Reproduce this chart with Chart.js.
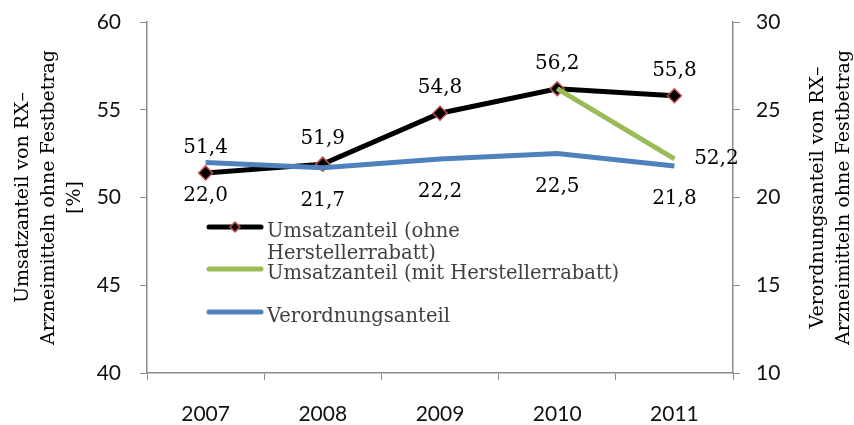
<!DOCTYPE html>
<html>
<head>
<meta charset="utf-8">
<script src="https://cdn.jsdelivr.net/npm/chart.js@4/dist/chart.umd.min.js"></script>
<style>
  html, body { margin: 0; padding: 0; background: #fff; }
  #wrap { width: 854px; height: 425px; }
</style>
</head>
<body>
<div id="wrap"><canvas id="chart"></canvas></div>
<script>
// Data
const years = ['2007', '2008', '2009', '2010', '2011'];
const umsatzOhne = [51.4, 51.9, 54.8, 56.2, 55.8];
const umsatzMit = [null, null, null, 56.2, 52.2];
const verordnung = [22.0, 21.7, 22.2, 22.5, 21.8];
const leftTicks = [40, 45, 50, 55, 60];
const rightTicks = [10, 15, 20, 25, 30];
const leftTitle = ['Umsatzanteil von RX–', 'Arzneimitteln ohne Festbetrag', '[%]'];
const rightTitle = ['Verordnungsanteil von RX–', 'Arzneimitteln ohne Festbetrag'];

const serif = '"DejaVu Serif", "Liberation Serif", serif';
const sans = 'Lato, "Liberation Sans", sans-serif';
const axisGray = '#8c8c8c';

// format numbers with a German decimal comma
function fmt(v) {
    return v.toFixed(1).replace('.', ',');
}

// Data labels drawn next to the points
const labelPlugin = {
    id: 'pointLabels',
    afterDatasetsDraw(chart) {
        const ctx = chart.ctx;
        ctx.save();
        ctx.font = '20px ' + serif;
        ctx.fillStyle = '#000';
        ctx.textAlign = 'center';
        ctx.textBaseline = 'middle';
        chart.data.datasets.forEach((ds, i) => {
            const meta = chart.getDatasetMeta(i);
            meta.data.forEach((pt, j) => {
                const v = ds.data[j];
                if (v === null) return;
                if (ds.labelPos === 'above') {
                    ctx.fillText(fmt(v), pt.x, pt.y - 25);
                } else if (ds.labelPos === 'below') {
                    ctx.fillText(fmt(v), pt.x, pt.y + 33);
                } else if (ds.labelPos === 'right' && j === ds.data.length - 1) {
                    ctx.fillText(fmt(v), pt.x + 42, pt.y);
                }
            });
        });
        ctx.restore();
    }
};

// Rotated axis titles (both read bottom to top)
const titlePlugin = {
    id: 'axisTitles',
    afterDraw(chart) {
        const ctx = chart.ctx;
        const cy = (chart.chartArea.top + chart.chartArea.bottom) / 2;
        ctx.save();
        ctx.font = '19px ' + serif;
        ctx.fillStyle = '#000';
        ctx.textAlign = 'center';
        ctx.textBaseline = 'middle';
        const drawTitle = (lines, xs) => {
            lines.forEach((t, k) => {
                ctx.save();
                ctx.translate(xs[k], cy);
                ctx.rotate(-Math.PI / 2);
                ctx.fillText(t, 0, 0);
                ctx.restore();
            });
        };
        drawTitle(leftTitle, [23, 49, 75]);
        drawTitle(rightTitle, [818, 844]);
        ctx.restore();
    }
};

// Legend inside the plot area, with wrapped first entry
const legendPlugin = {
    id: 'innerLegend',
    afterDraw(chart) {
        const ctx = chart.ctx;
        const x0 = 207;
        const items = [
            { lines: ['Umsatzanteil (ohne', 'Herstellerrabatt)'], color: '#000', marker: true, y: 227 },
            { lines: ['Umsatzanteil (mit Herstellerrabatt)'], color: '#9bbb59', marker: false, y: 269 },
            { lines: ['Verordnungsanteil'], color: '#4f81bd', marker: false, y: 312 }
        ];
        ctx.save();
        items.forEach(it => {
            ctx.strokeStyle = it.color;
            ctx.lineWidth = 5;
            ctx.lineCap = 'round';
            ctx.beginPath();
            ctx.moveTo(x0 + 2, it.y);
            ctx.lineTo(x0 + 54, it.y);
            ctx.stroke();
            if (it.marker) {
                const cx = x0 + 28;
                ctx.beginPath();
                ctx.moveTo(cx, it.y - 5);
                ctx.lineTo(cx + 5, it.y);
                ctx.lineTo(cx, it.y + 5);
                ctx.lineTo(cx - 5, it.y);
                ctx.closePath();
                ctx.fillStyle = '#000';
                ctx.fill();
                ctx.lineWidth = 1.5;
                ctx.strokeStyle = '#c0504d';
                ctx.stroke();
            }
            ctx.font = '19.5px ' + serif;
            ctx.fillStyle = '#404040';
            ctx.textAlign = 'left';
            ctx.textBaseline = 'middle';
            it.lines.forEach((t, k) => {
                ctx.fillText(t, x0 + 60, it.y + 5 + k * 22);
            });
        });
        ctx.restore();
    }
};

// fixed scale sizes so the plot area lands where the original has it
function fixY(width) {
    return function (scale) {
        scale.width = width;
        scale.paddingTop = 0;
        scale.paddingBottom = 0;
    };
}

const ctx = document.getElementById('chart').getContext('2d');
new Chart(ctx, {
    type: 'line',
    data: {
        labels: years,
        datasets: [
            {
                label: 'Umsatzanteil (ohne Herstellerrabatt)',
                data: umsatzOhne,
                yAxisID: 'y',
                borderColor: '#000',
                borderWidth: 5,
                pointStyle: 'rectRot',
                pointRadius: 7,
                pointBackgroundColor: '#000',
                pointBorderColor: '#c0504d',
                pointBorderWidth: 1.5,
                tension: 0,
                order: 3,
                labelPos: 'above'
            },
            {
                label: 'Umsatzanteil (mit Herstellerrabatt)',
                data: umsatzMit,
                yAxisID: 'y',
                borderColor: '#9bbb59',
                borderWidth: 5,
                pointRadius: 0,
                tension: 0,
                order: 2,
                labelPos: 'right'
            },
            {
                label: 'Verordnungsanteil',
                data: verordnung,
                yAxisID: 'y1',
                borderColor: '#4f81bd',
                borderWidth: 5,
                pointRadius: 0,
                tension: 0,
                order: 1,
                labelPos: 'below'
            }
        ]
    },
    options: {
        responsive: true,
        maintainAspectRatio: false,
        animation: false,
        layout: { padding: { top: 22, right: 0, left: 0, bottom: 0 } },
        plugins: {
            legend: { display: false },
            tooltip: { enabled: false }
        },
        scales: {
            x: {
                offset: true,
                grid: {
                    offset: true,
                    drawOnChartArea: false,
                    drawTicks: true,
                    tickLength: 7,
                    color: axisGray
                },
                border: { color: axisGray, width: 1.5 },
                ticks: {
                    font: { family: sans, size: 21 },
                    color: '#111',
                    padding: 22
                },
                afterFit(scale) {
                    scale.height = 52;
                    scale.paddingLeft = 0;
                    scale.paddingRight = 0;
                }
            },
            y: {
                position: 'left',
                min: 40,
                max: 60,
                afterBuildTicks(scale) { scale.ticks = leftTicks.map(v => ({ value: v })); },
                grid: {
                    drawOnChartArea: false,
                    drawTicks: true,
                    tickLength: 7,
                    color: axisGray
                },
                border: { color: axisGray, width: 1.5 },
                ticks: {
                    font: { family: sans, size: 21 },
                    color: '#111',
                    padding: 19
                },
                afterFit: fixY(147)
            },
            y1: {
                position: 'right',
                min: 10,
                max: 30,
                afterBuildTicks(scale) { scale.ticks = rightTicks.map(v => ({ value: v })); },
                grid: {
                    drawOnChartArea: false,
                    drawTicks: true,
                    tickLength: 7,
                    color: axisGray
                },
                border: { color: axisGray, width: 1.5 },
                ticks: {
                    font: { family: sans, size: 21 },
                    color: '#111',
                    padding: 16
                },
                afterFit: fixY(121)
            }
        }
    },
    plugins: [labelPlugin, legendPlugin, titlePlugin]
});
</script>
</body>
</html>
